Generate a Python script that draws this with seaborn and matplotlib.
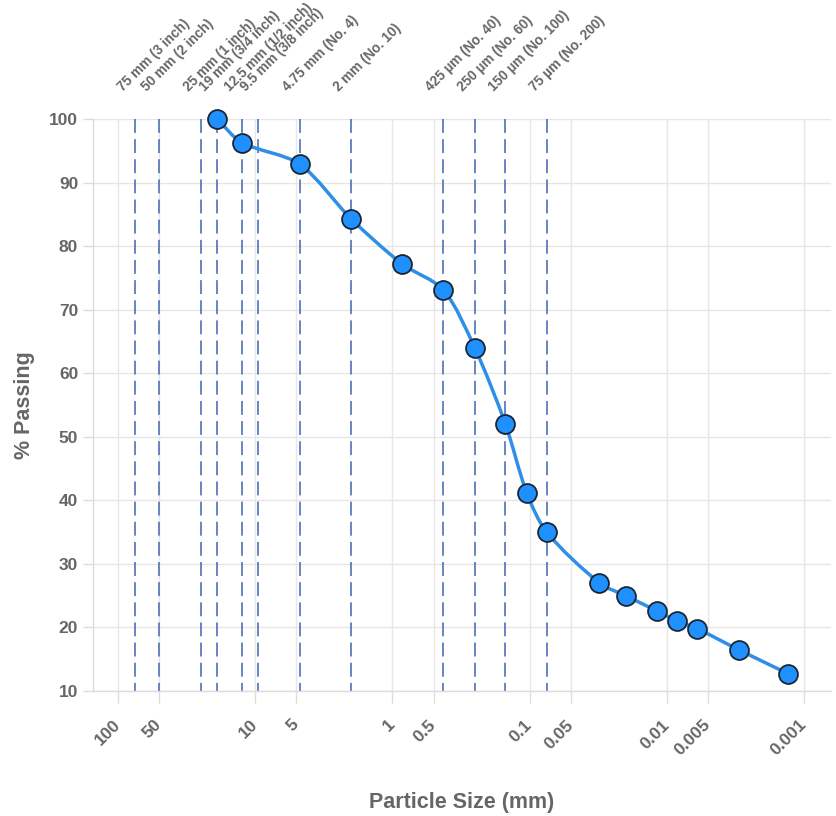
import numpy as np
import matplotlib
matplotlib.use("Agg")
import matplotlib.pyplot as plt
import seaborn as sns
from matplotlib.path import Path
from matplotlib.patches import PathPatch
from matplotlib.ticker import FixedLocator, NullLocator

## DATA
particle_mm = [19, 12.5, 4.75, 2, 0.85, 0.425, 0.25, 0.15, 0.105, 0.075,
               0.031, 0.020, 0.0118, 0.0084, 0.0060, 0.0030, 0.0013]
passing = [100, 96.3, 92.9, 84.3, 77.2, 73.1, 63.9, 52.0, 41.2, 35.0,
           27.0, 25.0, 22.6, 21.0, 19.8, 16.5, 12.7]

sieve_mm = [75, 50, 25, 19, 12.5, 9.5, 4.75, 2, 0.425, 0.25, 0.15, 0.075]
sieve_names = ["75 mm (3 inch)", "50 mm (2 inch)", "25 mm (1 inch)",
               "19 mm (3/4 inch)", "12.5 mm (1/2 inch)", "9.5 mm (3/8 inch)",
               "4.75 mm (No. 4)", "2 mm (No. 10)", "425 µm (No. 40)",
               "250 µm (No. 60)", "150 µm (No. 100)", "75 µm (No. 200)"]

x_ticks = [100, 50, 10, 5, 1, 0.5, 0.1, 0.05, 0.01, 0.005, 0.001]
x_tick_labels = ["100", "50", "10", "5", "1", "0.5", "0.1", "0.05",
                 "0.01", "0.005", "0.001"]
y_ticks = [10, 20, 30, 40, 50, 60, 70, 80, 90, 100]

GRAY = "#666666"
GRID = "#e6e6e6"
BLUE = "#1e90ff"


def spline_path(ax, xs, ys, tension=0.3):
    # bezier control points from neighbours, worked out in screen space
    pts = ax.transData.transform(np.column_stack([xs, ys]))
    n = len(pts)
    before, after = [], []
    for i in range(n):
        p0 = pts[max(i - 1, 0)]
        p1 = pts[i]
        p2 = pts[min(i + 1, n - 1)]
        d01 = np.hypot(*(p1 - p0))
        d12 = np.hypot(*(p2 - p1))
        tot = d01 + d12
        fa = tension * d01 / tot if tot else 0
        fb = tension * d12 / tot if tot else 0
        before.append(p1 - fa * (p2 - p0))
        after.append(p1 + fb * (p2 - p0))
    verts = [pts[0]]
    codes = [Path.MOVETO]
    for i in range(n - 1):
        verts += [after[i], before[i + 1], pts[i + 1]]
        codes += [Path.CURVE4] * 3
    verts = ax.transData.inverted().transform(np.array(verts))
    return Path(verts, codes)


sns.set_theme(style="whitegrid")
plt.rcParams["font.family"] = ["Liberation Sans", "DejaVu Sans"]
plt.rcParams["lines.scale_dashes"] = False

fig = plt.figure(figsize=(8.36, 8.16), dpi=100)
ax = fig.add_axes([93 / 836, 125 / 816, 738 / 836, 572 / 816])
ax.set_facecolor("white")
ax.set_xscale("log")
ax.set_xlim(152, 0.000636)
ax.set_ylim(10, 100)

ax.xaxis.set_major_locator(FixedLocator(x_ticks))
ax.xaxis.set_minor_locator(NullLocator())
ax.set_xticklabels(x_tick_labels)
ax.set_yticks(y_ticks)

ax.grid(True, color=GRID, lw=1)
for side in ["top", "right"]:
    ax.spines[side].set_visible(False)
for side in ["left", "bottom"]:
    ax.spines[side].set_color("#dcdcdc")
    ax.spines[side].set_linewidth(1)

ax.tick_params(axis="x", length=8.6, width=1, color="#dcdcdc", pad=14,
               labelsize=12.5, labelcolor=GRAY, bottom=True)
ax.tick_params(axis="y", length=7.2, width=1, color="#dcdcdc", pad=3.5,
               labelsize=12.5, labelcolor=GRAY, left=True)
for lab in ax.get_xticklabels():
    lab.set_rotation(45)
    lab.set_ha("right")
    lab.set_va("center")
    lab.set_rotation_mode("anchor")
    lab.set_fontweight("bold")
for lab in ax.get_yticklabels():
    lab.set_fontweight("bold")

# sieve lines + labels
xform = ax.get_xaxis_transform()
for s, name in zip(sieve_mm, sieve_names):
    ax.axvline(s, ymin=1, ymax=0, color="#5676b8", lw=1.25,
               ls=(0, (10, 4.5)), zorder=2)
    ax.annotate(name, xy=(s, 1), xycoords=xform, xytext=(-12, 27),
                textcoords="offset pixels", rotation=45,
                rotation_mode="anchor", ha="left", va="baseline",
                fontsize=9.8, fontweight="bold", color=GRAY,
                annotation_clip=False)

# gradation curve
ax.add_patch(PathPatch(spline_path(ax, particle_mm, passing),
                       facecolor="none", edgecolor="#2f8fe6", lw=2.5,
                       zorder=3, capstyle="round", joinstyle="round",
                       clip_on=False))
sns.scatterplot(x=particle_mm, y=passing, ax=ax, s=185, color=BLUE,
                edgecolor="#1b2533", linewidth=1.3, zorder=4, legend=False,
                clip_on=False)

ax.set_xlabel("Particle Size (mm)", fontsize=15.5, fontweight="bold",
              color=GRAY)
ax.set_ylabel("% Passing", fontsize=15.5, fontweight="bold", color=GRAY)
ax.xaxis.set_label_coords(0.5, -0.176)
ax.yaxis.set_label_coords(-0.079, 0.5)

fig.savefig("out.png", dpi=100, facecolor="white")
